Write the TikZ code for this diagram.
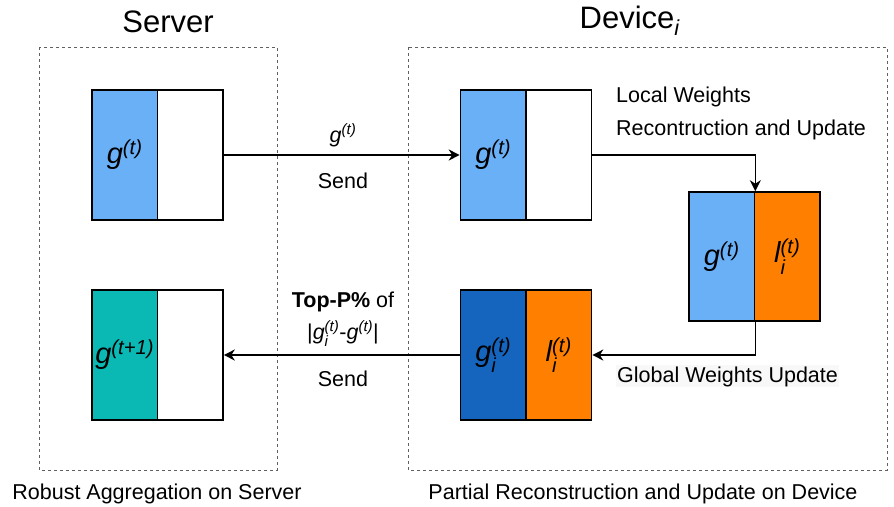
\documentclass[tikz,border=0pt]{standalone}
\usepackage{fontspec}
\setmainfont{Liberation Sans}
\usetikzlibrary{arrows.meta}
\definecolor{lblue}{HTML}{6AB0F7}
\definecolor{teal2}{HTML}{0AB8B4}
\definecolor{dblue}{HTML}{1565BE}
\definecolor{orng}{HTML}{FF8000}
\definecolor{dashgray}{HTML}{606060}
\definecolor{lblbg}{HTML}{F8F8F8}
\newcommand{\lowsub}[1]{\rlap{\raisebox{-0.18em}{\textsubscript{#1}}}}
\newcommand{\gsup}{\textit{g\textsuperscript{(t)}}}
\newcommand{\gisup}{\textit{g\lowsub{i}\textsuperscript{(t)}}}
\newcommand{\lisup}{\textit{l\lowsub{i}\textsuperscript{(t)}}}
\begin{document}
\begin{tikzpicture}[x=1pt,y=-1pt,
  half/.style={draw=black, line width=1.6pt, minimum width=65.5pt, minimum height=130pt, inner sep=0pt,
    font=\fontsize{29}{33}\selectfont},
  flow/.style={draw=black, line width=1.6pt, -{Stealth[length=11pt,width=11pt,inset=3.5pt]}},
  lbl/.style={font=\fontsize{21.5}{26}\selectfont, inner sep=0pt, anchor=base},
  lblw/.style={lbl, anchor=base west},
  ttl/.style={font=\fontsize{31}{36}\selectfont, inner sep=0pt, anchor=base},
  group/.style={draw=dashgray, line width=1pt, dash pattern=on 3pt off 3pt}
]
\useasboundingbox (0,0) rectangle (894,506);
% containers
\draw[group] (39,47) rectangle (277,470);
\draw[group] (408,47) rectangle (887,470);
% titles
\node[ttl] (tServer) at (168,32) {Server};
\node[ttl] (tDevice) at (630,28) {Device\textsubscript{\textit{i}}};
\node[lbl] (bServer) at (157,499) {Robust Aggregation on Server};
\node[lbl] (bDevice) at (643,499) {Partial Reconstruction and Update on Device};
% server boxes
\node[half, fill=lblue] (sTL) at (124.75,155) {\gsup};
\node[half, fill=white] (sTR) at (190.25,155) {};
\node[half, fill=teal2] (sBL) at (124.75,355) {\textit{g\textsuperscript{(t+1)}}};
\node[half, fill=white] (sBR) at (190.25,355) {};
% device boxes
\node[half, fill=lblue] (dTL) at (493.25,155) {\gsup};
\node[half, fill=white] (dTR) at (558.75,155) {};
\node[half, fill=lblue, minimum height=129pt] (dRL) at (721.75,256.5) {\gsup};
\node[half, fill=orng, minimum height=129pt] (dRR) at (787.25,256.5) {\lisup};
\node[half, fill=dblue] (dBL) at (493.25,355) {\gisup};
\node[half, fill=orng] (dBR) at (558.75,355) {\lisup};
% connectors
\draw[flow] (sTR.east) -- (dTL.west);
\draw[flow] (dTR.east) -| (dRL.north east);
\draw[flow] (dRL.south east) |- (dBR.east);
\draw[flow] (dBL.west) -- (sBR.east);
% connector labels
\node[lbl] (l1a) at (343,142) {\gsup};
\node[lbl] (l1b) at (343,188) {Send};
\node[lbl] (l4a) at (343,307) {\textbf{Top-P\%} of};
\node[lbl] (l4b) at (343,339) {|\textit{g\lowsub{i}\textsuperscript{(t)}}-\textit{g\textsuperscript{(t)}}|};
\node[lbl] (l4c) at (343,386) {Send};
\node[lblw] (l2a) at (616,102) {Local Weights};
\node[lblw] (l2b) at (616,135) {Recontruction and Update};
\node[lblw, fill=lblbg, inner sep=1pt] (l3) at (616,382) {Global Weights Update};
\end{tikzpicture}
\end{document}
